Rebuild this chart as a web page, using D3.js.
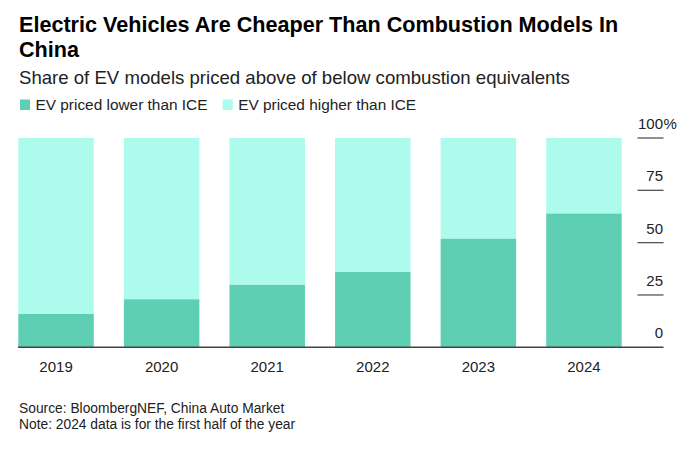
<!DOCTYPE html>
<html><head><meta charset="utf-8">
<script src="https://cdn.jsdelivr.net/npm/d3@7"></script>
<style>body{margin:0;background:#fff}svg{display:block;font-family:"Liberation Sans",Arial,sans-serif}</style>
</head><body><svg id="c" width="700" height="450"></svg>
<script>
const years = ["2019","2020","2021","2022","2023","2024"];
const lowerThanICE = [16, 23, 30, 36, 52, 64];
const higherThanICE = [84, 77, 70, 64, 48, 36];
const yTicks = [0, 25, 50, 75, 100];
const seriesNames = ["EV priced lower than ICE", "EV priced higher than ICE"];
const colors = ["#5ecfb2", "#adfbec"];

const svg = d3.select("#c");
const x = d3.scaleBand().domain(years).range([18.3, 621.7]).paddingInner(0.285).paddingOuter(0);
const y = d3.scaleLinear().domain([0, 100]).range([347.3, 138]);

svg.append("text").attr("x",19).attr("y",31.7).attr("font-size",21.6).attr("font-weight","bold").attr("fill","#000")
  .text("Electric Vehicles Are Cheaper Than Combustion Models In");
svg.append("text").attr("x",19).attr("y",56.7).attr("font-size",21.6).attr("font-weight","bold").attr("fill","#000")
  .text("China");
svg.append("text").attr("x",19).attr("y",84).attr("font-size",18.6).attr("fill","#222")
  .text("Share of EV models priced above of below combustion equivalents");

// legend
const lg = svg.append("g");
const legX = [20, 222.7];
seriesNames.forEach((n,i)=>{
  lg.append("rect").attr("x",legX[i]).attr("y",99.5).attr("width",10).attr("height",10.5).attr("fill",colors[i]);
  lg.append("text").attr("x",legX[i]+15.5).attr("y",110).attr("font-size",15.4).attr("fill","#222").text(n);
});

const stack = d3.stack().keys([0,1])(years.map((yr,i)=>({0:lowerThanICE[i],1:higherThanICE[i],year:yr})));
svg.append("g").selectAll("g").data(stack).join("g").attr("fill",(d,i)=>colors[i])
  .selectAll("rect").data(d=>d).join("rect")
  .attr("x",d=>x(d.data.year)).attr("width",x.bandwidth())
  .attr("y",d=>y(d[1])).attr("height",d=>y(d[0])-y(d[1]));

// y axis on right
const ya = svg.append("g");
yTicks.forEach(t=>{
  if (t>0) ya.append("line").attr("x1",637.5).attr("x2",663.5).attr("y1",y(t)).attr("y2",y(t)).attr("stroke","#555").attr("stroke-width",1.3);
  ya.append("text").attr("x",663).attr("y",y(t)-9).attr("text-anchor","end").attr("font-size",15).attr("fill","#222").text(t);
  if (t===100) ya.append("text").attr("x",663.5).attr("y",y(t)-9).attr("font-size",15).attr("fill","#222").text("%");
});
// baseline
svg.append("line").attr("x1",18).attr("x2",663.5).attr("y1",y(0)).attr("y2",y(0)).attr("stroke","#444").attr("stroke-width",1.5);

// x axis labels
const xa = svg.append("g").attr("transform",`translate(0,${y(0)})`)
  .call(d3.axisBottom(x).tickSize(0).tickPadding(10));
xa.select(".domain").remove();
xa.selectAll("text").attr("font-size",15).attr("fill","#222").attr("font-family","Liberation Sans, Arial, sans-serif").attr("dy","0.95em");

svg.append("text").attr("x",19).attr("y",413).attr("font-size",13.8).attr("fill","#222").text("Source: BloombergNEF, China Auto Market");
svg.append("text").attr("x",19).attr("y",429).attr("font-size",13.8).attr("fill","#222").text("Note: 2024 data is for the first half of the year");
</script></body></html>
